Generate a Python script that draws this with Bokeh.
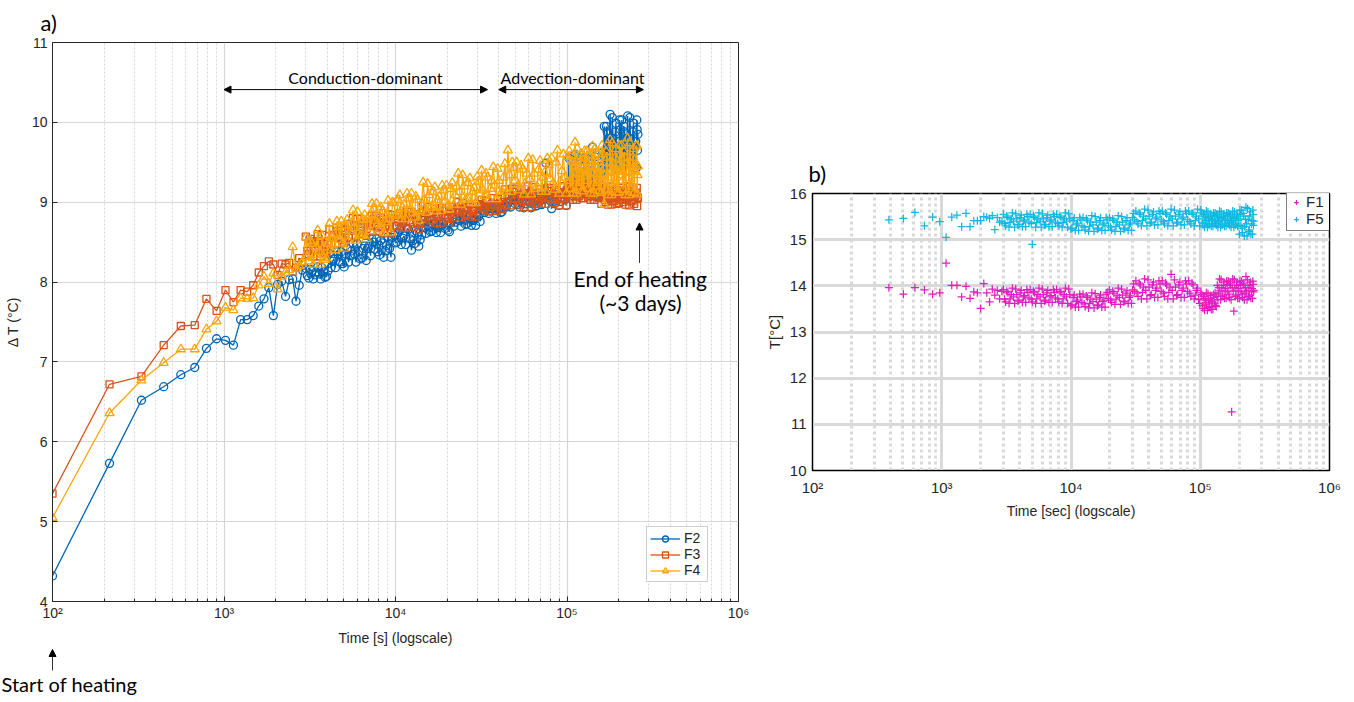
from bokeh.plotting import figure
from bokeh.models import (ColumnDataSource, FixedTicker, Range1d, Arrow, NormalHead,
                          Label, Legend, LegendItem, Spacer)
from bokeh.layouts import row, column
from bokeh.embed import file_html
from bokeh.resources import INLINE

# ---------------- data : panel a ----------------
time_a_early = [100, 215, 330, 445, 560, 675, 790, 905, 1020, 1135, 1250, 1365, 1480,
                1595, 1710, 1825, 1940, 2055, 2170, 2285, 2400, 2515, 2630, 2745, 2860]

time_dense = [3000, 3120, 3250, 3380, 3520, 3660, 3810, 3960, 4120, 4290, 4460, 4640,
              4830, 5020, 5220, 5430, 5650, 5880, 6110, 6360, 6610, 6880, 7150, 7440,
              7740, 8050, 8370, 8700, 9050, 9410, 9790, 10180, 10590, 11010, 11450, 11910,
              12390, 12880, 13400, 13930, 14490, 15070, 15680, 16300, 16950, 17630, 18340,
              19070, 19830, 20630, 21450, 22310, 23200, 24130, 25100, 26100, 27140, 28230,
              29360, 30530, 31750, 33020, 34350, 35720, 37150, 38630, 40180, 41790, 43460,
              45200, 47000, 48880, 50840, 52870, 54990, 57190, 59470, 61850, 64330, 66900,
              69580, 72360, 75260, 78270, 81400, 84650, 88040, 91560, 95220, 99030,
              103000, 105000, 107100, 109200, 111400, 113600, 115900, 118200, 120500,
              122900, 125300, 127800, 130300, 132900, 135500, 138200, 140900, 143700,
              146600, 149500, 152500, 155500, 158600, 161700, 164900, 168200, 171500,
              174900, 178400, 181900, 185500, 189200, 192900, 196700, 200600, 204600,
              208700, 212800, 217000, 221300, 225700, 230200, 234700, 239400, 244100,
              249000, 253900, 256500, 259200]

time_mid = [3060, 3185, 3315, 3450, 3590, 3735, 3885, 4040, 4205, 4375, 4550, 4735, 4925,
            5120, 5325, 5540, 5765, 5995, 6235, 6485, 6745, 7015, 7295, 7590, 7895, 8210,
            8535, 8875, 9230, 9600, 9985, 10385, 10800, 11230, 11680, 12150, 12635, 13140,
            13665, 14210, 14780, 15375, 15990, 16625, 17290, 17985, 18705, 19450, 20230,
            21040, 21880, 22755, 23665, 24615, 25600, 26620, 27685, 28795, 29945, 31140,
            32385, 33685, 35035, 36435, 37890, 39405, 40985, 42625, 44330, 46100, 47940,
            49860, 51855, 53930, 56090, 58330, 60660, 63090, 65615, 68240, 70970, 73810,
            76765, 79835, 83025, 86345, 89800, 93390, 97125, 101000,
            104000, 106050, 108150, 110300, 112500, 114750, 117050, 119350, 121700, 124100,
            126550, 129050, 131600, 134200, 136850, 139550, 142300, 145150, 148050, 151000,
            154000, 157050, 160150, 163300, 166550, 169850, 173200, 176650, 180150, 183700,
            187350, 191050, 194800, 198650, 202600, 206650, 210750, 214900, 219150, 223500,
            227950, 232450, 237050, 241750, 246550, 251450, 255200, 257850]

f2_early = [4.32, 5.73, 6.52, 6.69, 6.84, 6.93, 7.17, 7.29, 7.27, 7.21, 7.53, 7.53, 7.58,
            7.70, 7.79, 7.93, 7.58, 7.97, 8.01, 7.82, 8.03, 8.04, 7.76, 7.96, 8.15]
f2_dense = [8.17, 8.05, 8.14, 8.09, 8.19, 8.04, 8.13, 8.07,
            8.36, 8.26, 8.18, 8.34, 8.38, 8.19,
            8.42, 8.33, 8.49, 8.25, 8.39, 8.30, 8.45,
            8.42, 8.33, 8.50, 8.54, 8.34, 8.49, 8.39, 8.57, 8.31,
            8.59, 8.50, 8.65, 8.55, 8.47, 8.66, 8.40, 8.48, 8.62, 8.53,
            8.77, 8.61, 8.70, 8.64, 8.74, 8.68, 8.62, 8.73, 8.75, 8.63,
            8.81, 8.75, 8.86, 8.70, 8.79, 8.73, 8.83, 8.77, 8.71, 8.82,
            8.96, 8.87, 8.93, 8.89, 8.97, 8.86, 8.92, 8.88,
            9.06, 8.99, 8.94, 9.04, 9.06, 8.94, 9.03, 8.98, 9.08, 8.93, 9.02, 8.96,
            9.09, 9.03, 9.49, 9.08, 8.92, 8.98, 9.07, 9.01, 9.12, 8.96,
            9.55, 9.13, 9.44, 9.24, 9.60, 9.08, 9.38, 9.19, 9.52, 9.30, 9.11, 9.46,
            9.55, 9.13, 9.44, 9.24, 9.69, 9.08, 9.07, 9.19, 9.52, 9.30, 9.45, 9.62,
            9.95, 9.46, 9.88, 9.61, 10.10, 9.39, 9.80, 9.54, 9.99, 9.69, 9.43, 9.91,
            10.03, 9.46, 9.88, 9.61, 10.08, 9.39, 9.80, 9.54, 9.99, 9.69, 9.43, 9.91,
            9.85]
f2_mid = [8.08, 8.16, 8.04, 8.13, 8.10, 8.18, 8.06, 8.14,
          8.18, 8.29, 8.38, 8.25, 8.23, 8.35,
          8.25, 8.39, 8.35, 8.48, 8.29, 8.42, 8.27,
          8.45, 8.54, 8.41, 8.38, 8.52, 8.31, 8.46, 8.42, 8.56,
          8.49, 8.62, 8.47, 8.58, 8.67, 8.54, 8.52, 8.64, 8.45, 8.59,
          8.68, 8.76, 8.63, 8.72, 8.62, 8.69, 8.75, 8.67, 8.65, 8.74,
          8.70, 8.79, 8.77, 8.85, 8.72, 8.81, 8.71, 8.78, 8.84, 8.76,
          8.89, 8.95, 8.86, 8.92, 8.90, 8.96, 8.87, 8.93,
          8.94, 9.01, 9.06, 8.98, 8.97, 9.05, 8.93, 9.02, 8.99, 9.07, 8.95, 9.03,
          8.97, 9.04, 9.10, 9.02, 9.00, 9.09, 8.96, 9.05, 9.03, 9.11,
          9.22, 9.49, 9.08, 9.38, 9.30, 9.57, 9.16, 9.44, 9.11, 9.35, 9.55, 9.27,
          9.22, 9.49, 9.08, 9.38, 9.30, 9.57, 9.16, 9.44, 9.11, 9.35,
          9.40, 9.58,
          9.58, 9.95, 9.39, 9.80, 9.69, 10.06, 9.50, 9.88, 9.43, 9.76, 10.03, 9.65,
          9.58, 9.95, 9.39, 9.80, 9.69, 10.06, 9.50, 9.88, 9.43, 9.76, 10.03, 9.65]

f3_early = [5.35, 6.72, 6.82, 7.21, 7.45, 7.46, 7.79, 7.64, 7.90, 7.75, 7.90, 7.88, 7.96,
            8.12, 8.20, 8.26, 8.22, 8.09, 8.23, 8.22, 8.24, 8.13, 8.18, 8.30, 8.25]
f3_dense = [8.57, 8.35, 8.51, 8.41, 8.60, 8.32, 8.48, 8.38,
            8.66, 8.56, 8.48, 8.64, 8.68, 8.49,
            8.73, 8.64, 8.80, 8.56, 8.70, 8.61, 8.76,
            8.71, 8.63, 8.79, 8.83, 8.64, 8.78, 8.69, 8.85, 8.61,
            8.80, 8.71, 8.86, 8.76, 8.68, 8.84, 8.88, 8.69, 8.83, 8.74,
            8.95, 8.73, 8.86, 8.78, 8.92, 8.82, 8.74, 8.89, 8.93, 8.75,
            8.94, 8.87, 9.00, 8.81, 8.92, 8.85, 8.97, 8.89, 8.82, 8.95,
            9.03, 8.91, 9.00, 8.94, 9.05, 8.89, 8.98, 8.92,
            9.16, 9.05, 8.96, 9.13, 9.17, 8.97, 9.12, 9.02, 9.20, 8.94, 9.09, 9.00,
            9.16, 9.06, 8.98, 9.14, 9.18, 8.99, 9.13, 9.04, 9.20, 8.96,
            9.25, 9.06, 9.20, 9.11, 9.27, 9.03, 9.17, 9.08, 9.23, 9.13, 9.05, 9.21,
            9.25, 9.06, 9.20, 9.11, 9.27, 9.03, 9.17, 9.08, 9.23, 9.13,
            8.98, 9.14, 9.18, 9.00, 9.13, 9.04, 9.20, 8.97, 9.10, 9.02, 9.16, 9.07,
            8.99, 9.14, 9.18, 9.00, 9.13, 9.04, 9.20, 8.96, 9.10, 9.02, 9.16, 9.07,
            9.12, 8.95, 9.05]
f3_mid = [8.39, 8.54, 8.32, 8.48, 8.44, 8.59, 8.36, 8.51,
          8.48, 8.59, 8.68, 8.55, 8.53, 8.65,
          8.56, 8.70, 8.66, 8.79, 8.60, 8.73, 8.58,
          8.74, 8.83, 8.70, 8.68, 8.80, 8.61, 8.75, 8.71, 8.84,
          8.70, 8.83, 8.68, 8.79, 8.88, 8.75, 8.73, 8.85, 8.66, 8.80,
          8.82, 8.94, 8.77, 8.88, 8.74, 8.85, 8.93, 8.81, 8.79, 8.90,
          8.81, 8.92, 8.89, 8.99, 8.84, 8.94, 8.82, 8.91, 8.98, 8.88,
          8.93, 9.02, 8.89, 8.98, 8.96, 9.04, 8.91, 9.00,
          8.96, 9.08, 9.17, 9.04, 9.01, 9.15, 8.94, 9.09, 9.05, 9.19, 8.98, 9.12,
          8.98, 9.09, 9.18, 9.05, 9.03, 9.15, 8.96, 9.10, 9.06, 9.19,
          9.10, 9.22, 9.03, 9.17, 9.13, 9.26, 9.07, 9.20, 9.05, 9.16, 9.25, 9.12,
          9.10, 9.22, 9.03, 9.17, 9.13, 9.26, 9.07, 9.20, 9.05, 9.16,
          9.18, 9.06,
          9.03, 9.15, 8.97, 9.10, 9.07, 9.19, 9.01, 9.13, 8.98, 9.09, 9.18, 9.06,
          9.03, 9.15, 8.97, 9.10, 9.07, 9.19, 9.01, 9.13, 8.98, 9.09, 9.18, 9.06]

f4_early = [5.05, 6.36, 6.77, 6.99, 7.16, 7.16, 7.41, 7.51, 7.68, 7.65, 7.80, 7.79, 7.80,
            7.96, 8.07, 7.98, 8.11, 7.91, 8.07, 8.12, 8.15, 8.44, 8.17, 8.20, 8.25]
f4_dense = [8.56, 8.26, 8.48, 8.34, 8.65, 8.22, 8.44, 8.30,
            8.73, 8.55, 8.40, 8.69, 8.76, 8.42,
            8.78, 8.64, 8.90, 8.52, 8.74, 8.60, 8.84,
            8.79, 8.64, 8.92, 8.98, 8.66, 8.89, 8.75, 9.02, 8.62,
            8.99, 8.85, 9.09, 8.93, 8.79, 9.05, 9.11, 8.81, 9.03, 8.89,
            9.25, 8.87, 9.09, 8.95, 9.19, 9.03, 8.89, 9.15, 9.21, 8.91,
            9.24, 9.09, 9.36, 8.97, 9.20, 9.05, 9.30, 9.13, 8.99, 9.26,
            9.40, 9.08, 9.31, 9.17, 9.44, 9.04, 9.27, 9.13,
            9.48, 9.65, 9.13, 9.43, 9.50, 9.15, 9.41, 9.24, 9.55, 9.10, 9.36, 9.20,
            9.52, 9.31, 9.13, 9.47, 9.55, 9.16, 9.65, 9.26, 9.60, 9.11,
            9.64, 9.17, 9.51, 9.30, 9.75, 9.11, 9.45, 9.24, 9.61, 9.36, 9.14, 9.55,
            9.64, 9.17, 9.51, 9.30, 9.70, 9.11, 9.45, 9.24, 9.61, 9.36,
            9.12, 9.60, 8.97, 9.16, 9.56, 9.31, 9.78, 9.09, 9.49, 9.23, 9.67, 9.38,
            9.12, 9.60, 9.71, 9.16, 9.56, 9.31, 9.80, 9.09, 9.49, 9.23, 9.67, 9.38,
            9.70, 9.10, 9.45]
f4_mid = [8.32, 8.52, 8.22, 8.44, 8.38, 8.58, 8.28, 8.48,
          8.40, 8.60, 8.76, 8.53, 8.49, 8.71,
          8.52, 8.74, 8.68, 8.88, 8.58, 8.78, 8.54,
          8.83, 8.98, 8.77, 8.73, 8.94, 8.62, 8.85, 8.79, 9.00,
          8.83, 9.03, 8.79, 8.97, 9.11, 8.91, 8.87, 9.07, 8.77, 8.99,
          9.03, 9.23, 8.93, 9.13, 8.89, 9.07, 9.21, 9.01, 8.97, 9.17,
          8.97, 9.20, 9.13, 9.34, 9.03, 9.24, 8.99, 9.18, 9.32, 9.11,
          9.15, 9.36, 9.04, 9.27, 9.21, 9.42, 9.10, 9.31,
          9.13, 9.34, 9.50, 9.27, 9.22, 9.46, 9.10, 9.36, 9.29, 9.53, 9.17, 9.41,
          9.13, 9.37, 9.55, 9.29, 9.24, 9.50, 9.11, 9.39, 9.31, 9.57,
          9.27, 9.58, 9.11, 9.45, 9.36, 9.67, 9.20, 9.51, 9.14, 9.42, 9.64, 9.33,
          9.27, 9.58, 9.11, 9.45, 9.36, 9.67, 9.20, 9.51, 9.14, 9.42,
          9.71, 9.34,
          9.27, 9.63, 9.09, 9.49, 9.38, 9.74, 9.20, 9.56, 9.12, 9.45, 9.71, 9.34,
          9.27, 9.63, 9.09, 9.49, 9.38, 9.74, 9.20, 9.56, 9.12, 9.45, 9.71, 9.34]

# ---------------- data : panel b ----------------
time_b_early = [390, 505, 620, 735, 850, 965, 1080, 1195, 1310, 1425, 1540, 1655, 1770,
                1885, 2000, 2115, 2230, 2345, 2460, 2575, 2690, 2805, 2920]

f5_early = [15.43, 15.46, 15.59, 15.30, 15.49, 15.39, 15.05, 15.49, 15.53, 15.28, 15.57,
            15.28, 15.41, 15.41, 15.41, 15.50, 15.49, 15.46, 15.52, 15.22, 15.48, 15.38, 15.40]
f5_dense = [15.55, 15.30, 15.48, 15.37, 15.58, 15.27, 15.45, 15.33, 15.53, 15.40, 15.28, 15.50,
            15.55, 14.90, 15.48, 15.37, 15.58, 15.27, 15.45, 15.33, 15.53, 15.40, 15.28, 15.50,
            15.55, 15.30, 15.48, 15.37, 15.58, 15.27, 15.45,
            15.25, 15.47, 15.32, 15.20, 15.43,
            15.48, 15.21, 15.41, 15.29, 15.52, 15.18, 15.38, 15.25, 15.47, 15.32, 15.20, 15.43,
            15.48, 15.21, 15.41, 15.29, 15.52, 15.18, 15.38, 15.25, 15.47, 15.32, 15.20,
            15.57,
            15.62, 15.34, 15.55, 15.41, 15.66, 15.30, 15.51, 15.38, 15.60, 15.45, 15.32, 15.57,
            15.62, 15.34, 15.55, 15.41, 15.66, 15.30, 15.51, 15.38, 15.60, 15.45, 15.32, 15.57,
            15.62, 15.34, 15.55, 15.41, 15.66, 15.30,
            15.58, 15.31, 15.51, 15.38, 15.62, 15.27, 15.47, 15.34, 15.56, 15.42, 15.29, 15.53,
            15.58, 15.31, 15.51, 15.38, 15.62, 15.27, 15.47, 15.34, 15.56, 15.42, 15.29, 15.53,
            15.58, 15.31, 15.51, 15.38, 15.62, 15.27, 15.47, 15.34, 15.56, 15.42,
            15.12, 15.54,
            15.64, 15.15, 15.51, 15.28, 15.70, 15.08, 15.44, 15.21, 15.60, 15.34, 15.12, 15.54,
            15.40]
f5_mid = [15.35, 15.51, 15.27, 15.45, 15.40, 15.56, 15.32, 15.48, 15.28, 15.43, 15.55, 15.38,
          15.35, 15.51, 15.27, 15.45, 15.40, 15.56, 15.32, 15.48, 15.28, 15.43, 15.55, 15.38,
          15.35, 15.51, 15.27, 15.45, 15.40, 15.56,
          15.23, 15.41, 15.20, 15.36, 15.48, 15.30,
          15.27, 15.45, 15.18, 15.38, 15.32, 15.50, 15.23, 15.41, 15.20, 15.36, 15.48, 15.30,
          15.27, 15.45, 15.18, 15.38, 15.32, 15.50, 15.23, 15.41, 15.20, 15.36, 15.48,
          15.43,
          15.39, 15.58, 15.30, 15.51, 15.45, 15.64, 15.36, 15.55, 15.32, 15.49, 15.62, 15.43,
          15.39, 15.58, 15.30, 15.51, 15.45, 15.64, 15.36, 15.55, 15.32, 15.49, 15.62, 15.43,
          15.39, 15.58, 15.30, 15.51, 15.45, 15.64,
          15.36, 15.55, 15.27, 15.47, 15.42, 15.60, 15.32, 15.51, 15.29, 15.45, 15.58, 15.40,
          15.36, 15.55, 15.27, 15.47, 15.42, 15.60, 15.32, 15.51, 15.29, 15.45, 15.58, 15.40,
          15.36, 15.55, 15.27, 15.47, 15.42, 15.60, 15.32, 15.51, 15.29, 15.45,
          15.64, 15.31,
          15.25, 15.57, 15.08, 15.44, 15.34, 15.67, 15.18, 15.51, 15.12, 15.41, 15.64, 15.31]

f1_early = [13.96, 13.82, 13.96, 13.91, 13.82, 13.85, 14.49, 14.01, 14.01, 13.76, 13.99,
            13.73, 13.87, 13.85, 13.51, 14.05, 13.85, 13.65, 13.93, 13.80, 13.90, 13.72, 13.88]
f1_dense = [13.92, 13.65, 13.85, 13.72, 13.95, 13.62, 13.81, 13.69, 13.90, 13.76, 13.64, 13.86,
            13.92, 13.65, 13.85, 13.72, 13.95, 13.62, 13.81, 13.69, 13.90, 13.76, 13.64, 13.86,
            13.92, 13.65, 13.85, 13.72, 13.95, 13.62, 13.81,
            13.59, 13.80, 13.66, 13.54, 13.76,
            13.82, 13.55, 13.75, 13.62, 13.85, 13.52, 13.71, 13.59, 13.80, 13.66, 13.54,
            13.86,
            13.91, 13.64, 13.84, 13.71, 13.95, 13.60, 13.80, 13.67, 13.89, 13.75, 13.62,
            14.04,
            14.11, 13.77, 14.02, 13.86, 14.15, 13.72, 13.97, 13.81, 14.08, 13.90, 13.75, 14.04,
            14.11, 13.77, 14.02, 13.86, 14.25, 13.72, 13.97, 13.81, 14.08, 13.90, 13.75, 14.04,
            14.11, 13.77, 14.02, 13.80, 13.95, 13.62,
            13.81, 13.51, 13.73, 13.59, 13.85, 13.47, 13.69, 13.55, 13.79, 13.63, 13.49, 13.75,
            13.85, 13.55,
            14.01, 13.84, 14.15, 13.70, 13.96, 13.80, 14.08, 13.89, 13.73, 14.03,
            14.10, 13.75, 14.01, 11.27, 14.15, 13.45, 13.96, 13.80, 14.08, 13.89, 13.73, 14.03,
            14.10, 13.75, 14.01, 13.84, 14.20, 13.70, 13.96, 13.80, 14.08, 13.89, 13.73, 14.03,
            13.90]
f1_mid = [13.71, 13.88, 13.62, 13.81, 13.76, 13.93, 13.67, 13.85, 13.64, 13.79, 13.92, 13.74,
          13.71, 13.88, 13.62, 13.81, 13.76, 13.93, 13.67, 13.85, 13.64, 13.79, 13.92, 13.74,
          13.71, 13.88, 13.62, 13.81, 13.76, 13.93,
          13.57, 13.75, 13.54, 13.69, 13.82, 13.64,
          13.61, 13.78, 13.52, 13.71, 13.66, 13.83, 13.57, 13.75, 13.54, 13.69, 13.82,
          13.73,
          13.69, 13.88, 13.60, 13.80, 13.75, 13.93, 13.65, 13.84, 13.62, 13.78, 13.91,
          13.88,
          13.84, 14.06, 13.72, 13.97, 13.90, 14.13, 13.79, 14.02, 13.75, 13.95, 14.11, 13.88,
          13.84, 14.06, 13.72, 13.97, 13.90, 14.13, 13.79, 14.02, 13.75, 13.95, 14.11, 13.88,
          13.84, 14.06, 13.72, 13.90, 13.70, 13.85,
          13.57, 13.77, 13.47, 13.69, 13.63, 13.83, 13.53, 13.73, 13.49, 13.67, 13.81, 13.61,
          13.57, 13.77,
          13.70, 13.96, 13.89, 14.13, 13.77, 14.01, 13.73, 13.94, 14.10, 13.87,
          13.82, 14.06, 13.70, 13.96, 13.89, 14.13, 13.77, 14.01, 13.73, 13.94, 14.10, 13.87,
          13.82, 14.06, 13.70, 13.96, 13.89, 14.13, 13.77, 14.01, 13.73, 13.94, 14.10, 13.87]

x_major = [1e2, 1e3, 1e4, 1e5, 1e6]
x_tick_labels = {100: "10²", 1000: "10³", 10000: "10⁴", 100000: "10⁵", 1000000: "10⁶"}

# ---------------- assemble (sorted by time) ----------------
def check(name, a, b):
    if len(a) != len(b):
        raise ValueError(f"{name}: {len(a)} vs {len(b)}")


ta = time_a_early + time_dense + time_mid
tb = time_b_early + time_dense + time_mid
cols_a = {"f2": f2_early + f2_dense + f2_mid, "f3": f3_early + f3_dense + f3_mid,
          "f4": f4_early + f4_dense + f4_mid}
cols_b = {"f1": f1_early + f1_dense + f1_mid, "f5": f5_early + f5_dense + f5_mid}
for k, v in cols_a.items():
    check(k, ta, v)
for k, v in cols_b.items():
    check(k, tb, v)
order_a = sorted(range(len(ta)), key=lambda i: ta[i])
order_b = sorted(range(len(tb)), key=lambda i: tb[i])
src_a = ColumnDataSource(dict(t=[ta[i] for i in order_a],
                              **{k: [v[i] for i in order_a] for k, v in cols_a.items()}))
src_b = ColumnDataSource(dict(t=[tb[i] for i in order_b],
                              **{k: [v[i] for i in order_b] for k, v in cols_b.items()}))

# ---------------- styling constants ----------------
AX = "#262626"
C2, C3, C4 = "#0065B5", "#D95319", "#FAA60A"
C1, C5 = "#E01EC2", "#0DB8E2"
TF = "Liberation Sans"
AF = "Lato"
x_minor = [m * d for d in x_major[:-1] for m in range(2, 10)]


def style_axes(p, ylab, xlab, yticks, fs, grid_w, minor_w, minor_dash, grid_col, outline_w):
    xt = FixedTicker(ticks=x_major, minor_ticks=x_minor)
    yt = FixedTicker(ticks=yticks, minor_ticks=[])
    p.xaxis.ticker = xt
    p.xgrid.ticker = xt
    p.yaxis.ticker = yt
    p.ygrid.ticker = yt
    p.xaxis.major_label_overrides = x_tick_labels
    for ax in (p.xaxis, p.yaxis):
        ax.axis_line_color = AX
        ax.major_tick_line_color = AX
        ax.minor_tick_line_color = AX
        ax.major_tick_in = 5
        ax.major_tick_out = 0
        ax.minor_tick_in = 3
        ax.minor_tick_out = 0
        ax.major_label_text_font = TF
        ax.major_label_text_font_size = fs
        ax.major_label_text_color = AX
        ax.axis_label_text_font = TF
        ax.axis_label_text_font_size = "14px"
        ax.axis_label_text_font_style = "normal"
        ax.axis_label_text_color = AX
    p.xaxis.axis_label = xlab
    p.yaxis.axis_label = ylab
    p.xgrid.grid_line_color = grid_col
    p.xgrid.grid_line_width = grid_w
    p.xgrid.minor_grid_line_color = grid_col
    p.xgrid.minor_grid_line_width = minor_w
    p.xgrid.minor_grid_line_dash = minor_dash
    p.ygrid.grid_line_color = grid_col
    p.ygrid.grid_line_width = grid_w
    p.outline_line_color = AX
    p.outline_line_width = outline_w


def style_title(p, offset, standoff):
    p.title.align = "left"
    p.title.offset = offset
    p.title.standoff = standoff
    p.title.text_font = AF
    p.title.text_font_size = "22px"
    p.title.text_font_style = "normal"
    p.title.text_color = "black"
    p.title.vertical_align = "bottom"


# ---------------- panel a ----------------
p1 = figure(width=760, height=648, x_axis_type="log", x_range=Range1d(1e2, 1e6),
            y_range=Range1d(4, 11), output_backend="svg", toolbar_location=None,
            title="a)", min_border_left=52, min_border_right=22, min_border_top=42,
            min_border_bottom=46, background_fill_color="white", border_fill_color="white")
style_title(p1, -12, 13)
style_axes(p1, "Δ T (°C)", "Time [s] (logscale)", list(range(4, 12)), "14px",
           1.2, 1, "2 2", "#D6D6D6", 1)
p1.xaxis.major_label_standoff = 3
p1.xaxis.axis_label_standoff = 6
p1.yaxis.major_label_standoff = 5
p1.yaxis.axis_label_standoff = 8

items = []
for col, c, mk, lab, sz in (("f2", C2, "circle", "F2", 8), ("f3", C3, "square", "F3", 7),
                            ("f4", C4, "triangle", "F4", 9)):
    ln = p1.line("t", col, source=src_a, line_color=c, line_width=1.3)
    sc = p1.scatter("t", col, source=src_a, marker=mk, size=sz, line_color=c,
                    fill_color=None, line_width=1.3)
    items.append(LegendItem(label=lab, renderers=[ln, sc]))

leg_a = Legend(items=items, location=(594, 19), border_line_color="#A0A0A0",
               border_line_width=1, background_fill_color="white", padding=3, margin=0,
               spacing=0, glyph_width=30, glyph_height=15, label_height=15,
               label_standoff=4, label_text_font=TF, label_text_font_size="14px",
               label_text_color=AX)
p1.add_layout(leg_a)


def head():
    return NormalHead(size=7, fill_color="black", line_color="black")


p1.add_layout(Arrow(start=head(), end=head(), x_start=1000, y_start=10.41, x_end=34400,
                    y_end=10.41, line_color="black", line_width=1))
p1.add_layout(Arrow(start=head(), end=head(), x_start=40000, y_start=10.41, x_end=279000,
                    y_end=10.41, line_color="black", line_width=1))
p1.add_layout(Label(x=6680, y=10.56, text="Conduction-dominant", text_align="center",
                    text_baseline="middle", text_font=AF, text_font_size="16px",
                    text_color="black"))
p1.add_layout(Label(x=107700, y=10.56, text="Advection-dominant", text_align="center",
                    text_baseline="middle", text_font=AF, text_font_size="16px",
                    text_color="black"))
p1.add_layout(Arrow(end=head(), x_start=264700, y_start=8.24, x_end=264700, y_end=8.74,
                    line_color="#333333", line_width=1))
p1.add_layout(Label(x=268300, y=8.04, text="End of heating", text_align="center",
                    text_baseline="middle", text_font=AF, text_font_size="21px",
                    text_color="black"))
p1.add_layout(Label(x=268300, y=7.74, text="(~3 days)", text_align="center",
                    text_baseline="middle", text_font=AF, text_font_size="21px",
                    text_color="black"))

# strip under panel a: "Start of heating" note (pixel-based annotation space)
p3 = figure(width=760, height=52, x_range=Range1d(0, 760), y_range=Range1d(0, 52),
            output_backend="svg", toolbar_location=None, min_border=0,
            x_axis_location=None, y_axis_location=None, outline_line_color=None,
            background_fill_color="white", border_fill_color="white")
p3.grid.visible = False
p3.add_layout(Arrow(end=head(), x_start=52, y_start=30, x_end=52, y_end=51,
                    line_color="#333333", line_width=1))
p3.add_layout(Label(x=1, y=17, text="Start of heating", text_align="left",
                    text_baseline="middle", text_font=AF, text_font_size="20px",
                    text_color="black"))

# ---------------- panel b ----------------
p2 = figure(width=590, height=371, x_axis_type="log", x_range=Range1d(1e2, 1e6),
            y_range=Range1d(10, 16), output_backend="svg", toolbar_location=None,
            title="b)", min_border_left=52, min_border_right=21, min_border_top=41,
            min_border_bottom=50, background_fill_color="white", border_fill_color="white")
style_title(p2, -4, 14)
style_axes(p2, "T[°C]", "Time [sec] (logscale)", list(range(10, 17)), "15px",
           3, 3, "3 3", "#D9D9D9", 1.5)
p2.xaxis.major_tick_in = 0
p2.xaxis.minor_tick_in = 0
p2.yaxis.major_tick_in = 0
p2.xaxis.axis_line_color = "black"
p2.yaxis.axis_line_color = "black"
p2.outline_line_color = "black"
p2.xaxis.major_label_standoff = 8
p2.xaxis.axis_label_standoff = 4
p2.yaxis.major_label_standoff = 6
p2.yaxis.axis_label_standoff = 4
p2.yaxis.axis_label_text_font_size = "15px"

r1 = p2.scatter("t", "f1", source=src_b, marker="cross", size=8, line_color=C1,
                line_width=1.25)
r5 = p2.scatter("t", "f5", source=src_b, marker="cross", size=8, line_color=C5,
                line_width=1.25)
leg_b = Legend(items=[LegendItem(label="F1", renderers=[r1]), LegendItem(label="F5", renderers=[r5])],
               location=(474, 239), border_line_color="black", border_line_width=1,
               background_fill_color="white", padding=3, margin=0, spacing=0,
               glyph_width=12, glyph_height=16, label_height=16, label_standoff=4,
               label_text_font=TF, label_text_font_size="15px", label_text_color=AX)
p2.add_layout(leg_b)

layout = row(column(p1, row(p3)), column(Spacer(width=590, height=150), p2))
open("out.html", "w").write(file_html(layout, INLINE))
